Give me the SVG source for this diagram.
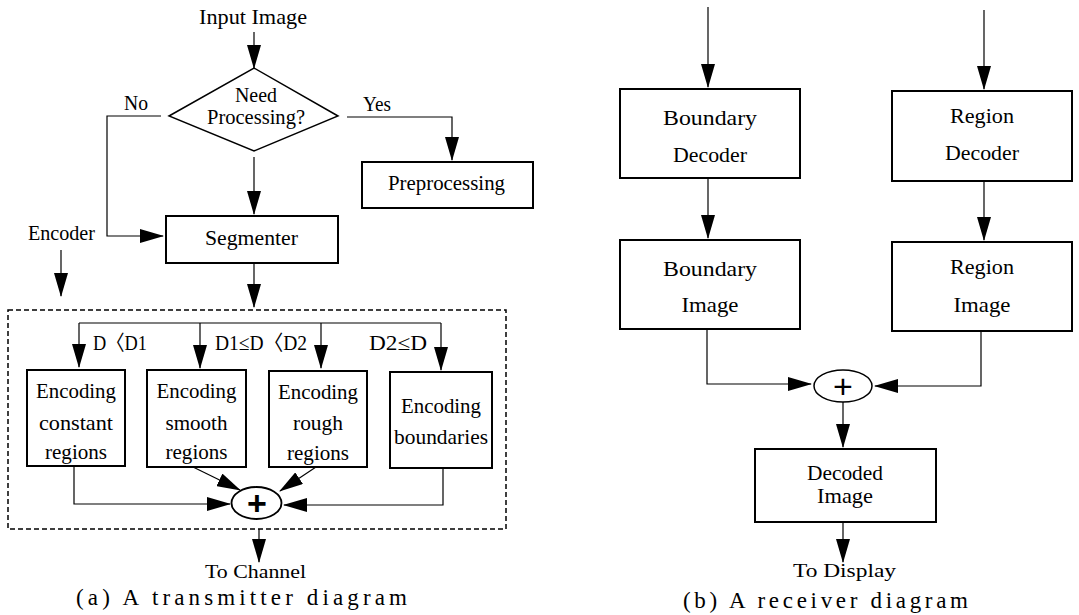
<svg xmlns="http://www.w3.org/2000/svg" width="1079" height="615" viewBox="0 0 1079 615">
<defs>
<marker id="ah" markerUnits="userSpaceOnUse" markerWidth="24" markerHeight="14" refX="23" refY="7" orient="auto"><path d="M0,0 L24,7 L0,14 z" fill="#000"/></marker>
<style>
text{font-family:"Liberation Serif","DejaVu Serif","Times New Roman",serif;fill:#000;text-anchor:middle;font-size:21px}
.box{fill:#fff;stroke:#000;stroke-width:2}
.c{fill:none;stroke:#000;stroke-width:1.2;marker-end:url(#ah)}
.l{fill:none;stroke:#000;stroke-width:1.2}
.plus{font-family:"Liberation Sans",sans-serif;font-size:34px}
.sm{font-size:18px}
.cap{font-size:23px}
.cjk{font-family:"Liberation Serif","Noto Sans CJK KR",serif}
</style>
</defs>
<rect width="1079" height="615" fill="#fff"/>

<g id="connectors">
<path class="c" d="M254,32 V68"/>
<path class="c" d="M161,116 H107 V236 H163"/>
<path class="c" d="M347,117 H452 V160"/>
<path class="c" d="M254,157 V214"/>
<path class="c" d="M61,250 V296"/>
<path class="c" d="M254,263 V307"/>
<path class="l" d="M79,323 H441"/>
<path class="c" d="M79,323 V367"/>
<path class="c" d="M200,323 V368"/>
<path class="c" d="M321,323 V368"/>
<path class="c" d="M441,323 V370"/>
<path class="c" d="M74,466 V504 H230"/>
<path class="c" d="M193,467 L240,490"/>
<path class="c" d="M316,467 L280,491"/>
<path class="c" d="M443,468 V505 H284"/>
<path class="c" d="M259,529 V562"/>
<path class="c" d="M708,7 V87"/>
<path class="c" d="M984,10 V89"/>
<path class="c" d="M708,178 V238"/>
<path class="c" d="M984,181 V240"/>
<path class="c" d="M707,329 V384 H811"/>
<path class="c" d="M981,331 V386 H875"/>
<path class="c" d="M843,402 V447"/>
<path class="c" d="M843,522 V562"/>
</g>

<g id="frame">
<rect x="8" y="310" width="498" height="219" fill="none" stroke="#000" stroke-width="1.5" stroke-dasharray="5,3"/>
</g>

<g id="t-input"><text x="253" y="24" textLength="108" lengthAdjust="spacingAndGlyphs">Input Image</text></g>

<g id="decision">
<polygon points="169,116 254,68 338,116 254,151" fill="#fff" stroke="#000" stroke-width="1.5"/>
<text x="256" y="102" textLength="42" lengthAdjust="spacingAndGlyphs">Need</text>
<text x="256" y="124" textLength="98" lengthAdjust="spacingAndGlyphs">Processing?</text>
</g>
<g id="t-no"><text x="136" y="110" textLength="24" lengthAdjust="spacingAndGlyphs">No</text></g>
<g id="t-yes"><text x="377" y="111" textLength="28" lengthAdjust="spacingAndGlyphs">Yes</text></g>

<g id="preprocessing">
<rect class="box" x="362" y="162" width="171" height="46"/>
<text x="446.5" y="190" textLength="117" lengthAdjust="spacingAndGlyphs">Preprocessing</text>
</g>

<g id="segmenter">
<rect class="box" x="166" y="216" width="172" height="47"/>
<text x="251.5" y="245" textLength="93" lengthAdjust="spacingAndGlyphs">Segmenter</text>
</g>

<g id="t-encoder"><text x="61.5" y="240" textLength="67" lengthAdjust="spacingAndGlyphs">Encoder</text></g>

<g id="t-d1"><text class="cjk" x="120" y="350" textLength="54" lengthAdjust="spacingAndGlyphs">D〈D1</text></g>
<g id="t-d2"><text class="cjk" x="261" y="350" textLength="92" lengthAdjust="spacingAndGlyphs">D1≤D〈D2</text></g>
<g id="t-d3"><text class="cjk" x="398" y="350" textLength="58" lengthAdjust="spacingAndGlyphs">D2≤D</text></g>

<g id="enc-constant">
<rect class="box" x="27" y="370" width="98" height="96"/>
<text x="76" y="398" textLength="80" lengthAdjust="spacingAndGlyphs">Encoding</text>
<text x="76" y="430" textLength="74" lengthAdjust="spacingAndGlyphs">constant</text>
<text x="76" y="459" textLength="62" lengthAdjust="spacingAndGlyphs">regions</text>
</g>
<g id="enc-smooth">
<rect class="box" x="147" y="370" width="99" height="97"/>
<text x="196.5" y="398" textLength="80" lengthAdjust="spacingAndGlyphs">Encoding</text>
<text x="196.5" y="430" textLength="62" lengthAdjust="spacingAndGlyphs">smooth</text>
<text x="196.5" y="459" textLength="62" lengthAdjust="spacingAndGlyphs">regions</text>
</g>
<g id="enc-rough">
<rect class="box" x="269" y="371" width="98" height="96"/>
<text x="318" y="399" textLength="80" lengthAdjust="spacingAndGlyphs">Encoding</text>
<text x="318" y="430" textLength="50" lengthAdjust="spacingAndGlyphs">rough</text>
<text x="318" y="460" textLength="62" lengthAdjust="spacingAndGlyphs">regions</text>
</g>
<g id="enc-boundaries">
<rect class="box" x="390" y="372" width="102" height="96"/>
<text x="441" y="413" textLength="80" lengthAdjust="spacingAndGlyphs">Encoding</text>
<text x="441" y="444" textLength="94" lengthAdjust="spacingAndGlyphs">boundaries</text>
</g>

<g id="sum-a">
<ellipse cx="256.5" cy="503" rx="25" ry="16" fill="#fff" stroke="#000" stroke-width="1.8"/>
<text class="plus" x="257" y="515" font-weight="bold">+</text>
</g>

<g id="t-channel"><text class="sm" x="255.5" y="578" textLength="101" lengthAdjust="spacingAndGlyphs">To Channel</text></g>
<g id="caption-a"><text class="cap" x="241.5" y="605" textLength="331" lengthAdjust="spacing">(a)  A transmitter diagram</text></g>

<g id="boundary-decoder">
<rect class="box" x="620" y="89" width="180" height="89"/>
<text x="710" y="125" textLength="94" lengthAdjust="spacingAndGlyphs">Boundary</text>
<text x="710" y="162" textLength="74" lengthAdjust="spacingAndGlyphs">Decoder</text>
</g>
<g id="region-decoder">
<rect class="box" x="892" y="91" width="180" height="90"/>
<text x="982" y="123" textLength="64" lengthAdjust="spacingAndGlyphs">Region</text>
<text x="982" y="160" textLength="74" lengthAdjust="spacingAndGlyphs">Decoder</text>
</g>
<g id="boundary-image">
<rect class="box" x="620" y="240" width="180" height="89"/>
<text x="710" y="276" textLength="94" lengthAdjust="spacingAndGlyphs">Boundary</text>
<text x="710" y="312" textLength="57" lengthAdjust="spacingAndGlyphs">Image</text>
</g>
<g id="region-image">
<rect class="box" x="892" y="242" width="180" height="89"/>
<text x="982" y="274" textLength="64" lengthAdjust="spacingAndGlyphs">Region</text>
<text x="982" y="312" textLength="57" lengthAdjust="spacingAndGlyphs">Image</text>
</g>

<g id="sum-b">
<ellipse cx="843" cy="386" rx="29" ry="16" fill="#fff" stroke="#000" stroke-width="1.5"/>
<text class="plus" x="843" y="398">+</text>
</g>

<g id="decoded-image">
<rect class="box" x="755" y="449" width="181" height="73"/>
<text x="845" y="480" font-size="17" textLength="76" lengthAdjust="spacingAndGlyphs">Decoded</text>
<text x="845" y="503" font-size="17" textLength="56" lengthAdjust="spacingAndGlyphs">Image</text>
</g>

<g id="t-display"><text class="sm" x="844.5" y="577" textLength="103" lengthAdjust="spacingAndGlyphs">To Display</text></g>
<g id="caption-b"><text class="cap" x="825.5" y="608" textLength="285" lengthAdjust="spacing">(b)  A receiver diagram</text></g>
</svg>
